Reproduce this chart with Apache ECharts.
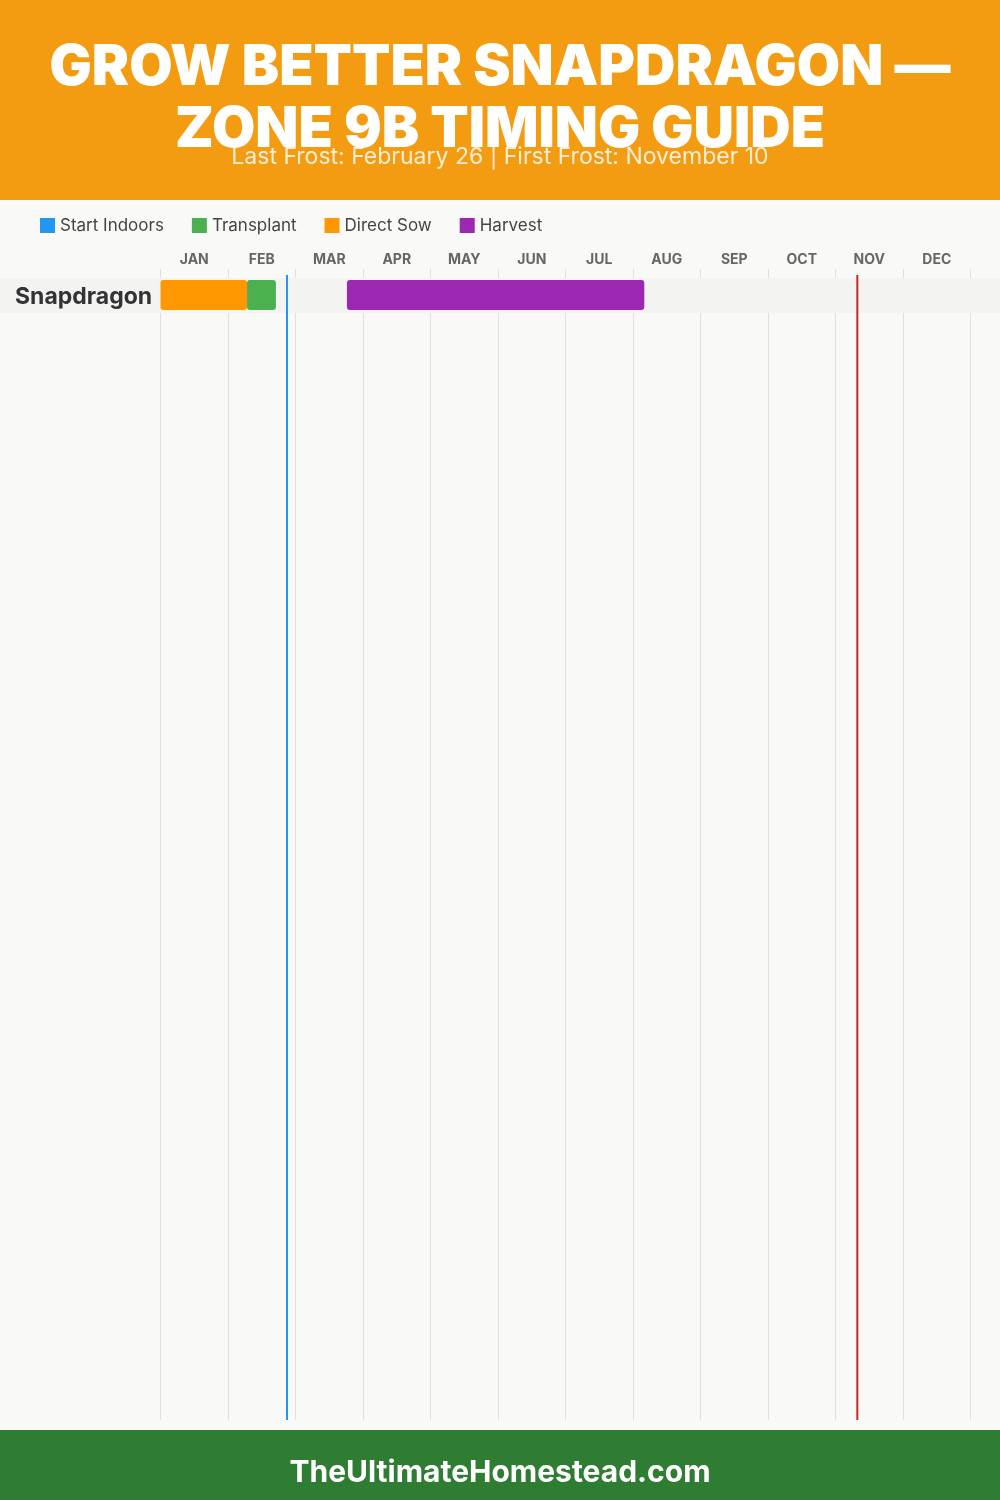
<!DOCTYPE html>
<html>
<head>
    <meta charset="utf-8">
    <title>Snapdragon Zone 9B</title>
    <script src="https://cdn.jsdelivr.net/npm/echarts@6/dist/echarts.min.js"></script>
    <style>
        html, body { margin: 0; padding: 0; background: #f9f9f7; }
        #chart { width: 1000px; height: 1500px; }
    </style>
</head>
<body>
<div id="chart"></div>
<script>
    // data, positions along the year in days (0 = Jan 1, 365 = Dec 31)
    var months = ['JAN', 'FEB', 'MAR', 'APR', 'MAY', 'JUN', 'JUL', 'AUG', 'SEP', 'OCT', 'NOV', 'DEC'];
    var crops = ['Snapdragon'];
    var startIndoors = [];               // none for this crop
    var transplant = [[0, 39, 52]];      // [row, startDay, endDay]
    var directSow = [[0, 0, 39]];
    var harvest = [[0, 84, 218]];
    var lastFrostDay = 57;               // February 26
    var firstFrostDay = 314;             // November 10

    var ROW_H = 35, ROW_TOP = 9, BAR_H = 30, BAR_PAD = 2;

    var chart = echarts.init(document.getElementById('chart'));

    function barItem(color) {
        return function (params, api) {
            var gridTop = api.coord([0, 0])[1];
            var row = api.value(0);
            var x0 = api.coord([api.value(1), 0])[0];
            var x1 = api.coord([api.value(2), 0])[0];
            var y = gridTop + ROW_TOP + row * ROW_H + BAR_PAD;
            return {
                type: 'rect',
                shape: { x: x0, y: y, width: x1 - x0, height: BAR_H, r: 3 },
                style: { fill: color }
            };
        };
    }

    var option = {
        backgroundColor: '#f9f9f7',
        animation: false,
        title: [{
            text: 'GROW BETTER SNAPDRAGON —\nZONE 9B TIMING GUIDE',
            left: 'center',
            top: 32,
            textStyle: {
                color: '#fff', fontSize: 56, fontWeight: 900, lineHeight: 62,
                fontFamily: 'Inter'
            }
        }, {
            text: 'Last Frost: February 26 | First Frost: November 10',
            left: 'center',
            top: 141,
            textStyle: { color: 'rgba(255,255,255,0.82)', fontSize: 23, fontWeight: 'normal', fontFamily: 'Inter' }
        }, {
            text: 'TheUltimateHomestead.com',
            left: 'center',
            top: 1453,
            textStyle: { color: '#fff', fontSize: 30, fontWeight: 'bold', fontFamily: 'Inter' }
        }],
        graphic: [{
            type: 'rect', z: 0,
            shape: { x: 0, y: 0, width: 1000, height: 200 },
            style: { fill: '#F39C12' }
        }, {
            type: 'rect', z: 0,
            shape: { x: 0, y: 1430, width: 1000, height: 70 },
            style: { fill: '#2E7D32' }
        }],
        legend: {
            data: ['Start Indoors', 'Transplant', 'Direct Sow', 'Harvest'],
            left: 35,
            top: 212,
            icon: 'rect',
            itemWidth: 15,
            itemHeight: 15,
            itemGap: 28,
            textStyle: { color: '#444', fontSize: 17, fontFamily: 'Inter' }
        },
        grid: { left: 160.5, right: 29.5, top: 269, bottom: 80 },
        xAxis: [{
            type: 'value',
            min: 0,
            max: 365,
            interval: 365 / 12,
            axisLabel: { show: false },
            axisLine: { show: false },
            axisTick: { show: false },
            splitLine: { show: true, lineStyle: { color: '#e0e0e0', width: 1 } }
        }, {
            type: 'category',
            position: 'top',
            data: months,
            boundaryGap: true,
            axisLine: { show: false },
            axisTick: { show: false },
            splitLine: { show: false },
            axisLabel: { color: '#666', fontSize: 14, fontWeight: 'bold', margin: 2, fontFamily: 'Inter' }
        }],
        yAxis: { type: 'value', min: 0, max: 1, inverse: true, show: false },
        series: [{
            name: 'rows',
            type: 'custom',
            z: 1,
            data: crops.map(function (c, i) { return [i, c]; }),
            encode: { x: [], y: [] },
            renderItem: function (params, api) {
                var gridTop = api.coord([0, 0])[1];
                var row = api.value(0);
                var y = gridTop + ROW_TOP + row * ROW_H;
                return {
                    type: 'group',
                    children: [{
                        type: 'rect',
                        shape: { x: 0, y: y, width: 1000, height: ROW_H },
                        style: { fill: '#f3f3f2' }
                    }, {
                        type: 'text',
                        style: {
                            x: 15, y: y + ROW_H / 2 + 2, text: crops[row],
                            fill: '#333', font: 'bold 23px Inter',
                            verticalAlign: 'middle', align: 'left'
                        }
                    }]
                };
            }
        }, {
            name: 'Start Indoors', type: 'custom', z: 3, itemStyle: { color: '#2196F3' },
            data: startIndoors, renderItem: barItem('#2196F3')
        }, {
            name: 'Transplant', type: 'custom', z: 3, itemStyle: { color: '#4CAF50' },
            data: transplant, encode: { x: [1, 2] }, renderItem: barItem('#4CAF50')
        }, {
            name: 'Direct Sow', type: 'custom', z: 4, itemStyle: { color: '#FF9800' },
            data: directSow, encode: { x: [1, 2] }, renderItem: barItem('#FF9800')
        }, {
            name: 'Harvest', type: 'custom', z: 3, itemStyle: { color: '#9C27B0' },
            data: harvest, encode: { x: [1, 2] }, renderItem: barItem('#9C27B0')
        }, {
            name: 'frost',
            type: 'custom',
            z: 5,
            data: [[lastFrostDay, '#2196F3'], [firstFrostDay, '#C62828']],
            encode: { x: 0 },
            renderItem: function (params, api) {
                var top = api.coord([api.value(0), 0]);
                var bottom = api.coord([api.value(0), 1]);
                var color = params.dataIndex === 0 ? '#2196F3' : '#C62828';
                return {
                    type: 'line',
                    shape: { x1: top[0], y1: top[1] + 6, x2: bottom[0], y2: bottom[1] },
                    style: { stroke: color, lineWidth: 2 }
                };
            }
        }]
    };

    chart.setOption(option);
</script>
</body>
</html>
